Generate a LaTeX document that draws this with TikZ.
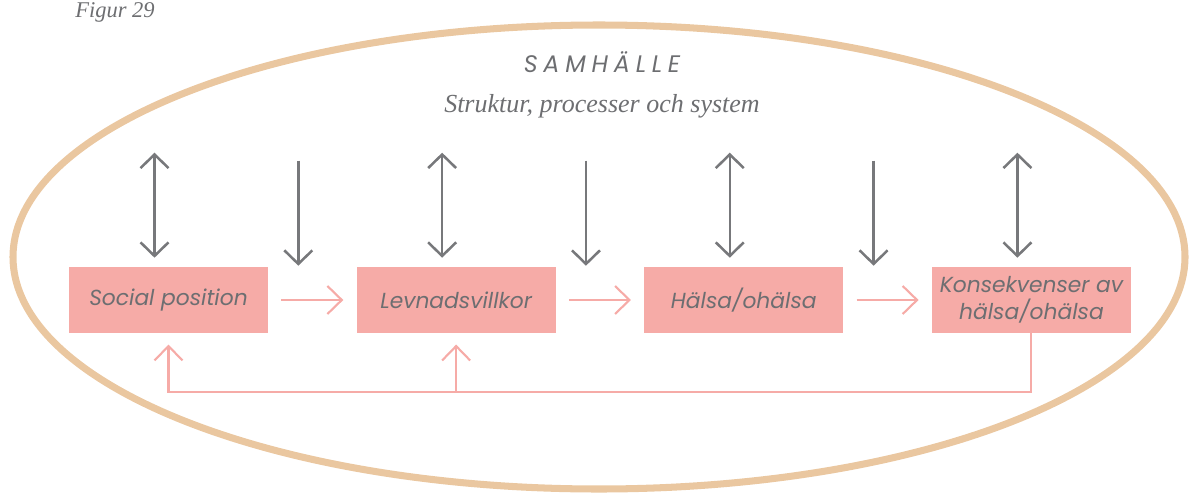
\documentclass[tikz,border=0pt]{standalone}
\usepackage{fontspec}
\setmainfont{Liberation Serif}
\newfontfamily\boxfont{Poppins}
\usetikzlibrary{arrows.meta,positioning,calc}
\definecolor{ringtan}{HTML}{EAC7A0}
\definecolor{boxpink}{HTML}{F6ABA7}
\definecolor{textgray}{HTML}{6D6E71}
\definecolor{arrowgray}{HTML}{77787B}

\begin{document}
\begin{tikzpicture}[x=0.025cm,y=-0.025cm,
  stage/.style={fill=boxpink,text=textgray,minimum width=4.975cm,minimum height=1.65cm,
    inner sep=0pt,align=center,font=\boxfont\itshape\fontsize{15.5}{19}\selectfont},
  grayarr/.style={arrowgray,line width=1.8pt,{Straight Barb[length=3.4mm,width=7mm]}-{Straight Barb[length=3.4mm,width=7mm]}},
  downarr/.style={arrowgray,line width=1.8pt,-{Straight Barb[length=3.4mm,width=7mm]}},
  pinkarr/.style={boxpink,line width=1.5pt,-{Straight Barb[length=3.6mm,width=7mm]}}]
  \useasboundingbox (0,0) rectangle (1192,494);
  % samhallet
  \draw[ringtan,line width=5pt] (599,257) ellipse [x radius=586,y radius=232];
  \node[textgray,font=\itshape\fontsize{16}{18}\selectfont,anchor=base west,inner sep=0pt] (fig) at (75,17) {Figur 29};
  \node[textgray,font=\boxfont\itshape\fontsize{17}{19}\selectfont\addfontfeatures{LetterSpace=24}] (sam) at (602,62) {SAMHÄLLE};
  \node[textgray,font=\itshape\fontsize{18.5}{21}\selectfont] (sub) at (602,106) {Struktur, processer och system};
  % kedjan
  \node[stage] (soc) at (168.5,300) {Social position};
  \node[stage,right=2.2cm of soc] (lev) {Levnadsvillkor};
  \node[stage,right=2.2cm of lev] (hal) {Hälsa/ohälsa};
  \node[stage,right=2.2cm of hal] (kon) {Konsekvenser av\\hälsa/ohälsa};
  \draw[pinkarr] ([xshift=0.325cm]soc.east) -- ([xshift=-0.325cm]lev.west);
  \draw[pinkarr] ([xshift=0.325cm]lev.east) -- ([xshift=-0.325cm]hal.west);
  \draw[pinkarr] ([xshift=0.325cm]hal.east) -- ([xshift=-0.325cm]kon.west);
  % paverkan fran samhallet
  \foreach \n in {soc,lev,hal,kon}
    \draw[grayarr] ([shift={(-14,-114)}]\n.north) -- ([shift={(-14,-9)}]\n.north);
  \foreach \a/\b in {soc/lev,lev/hal,hal/kon}
    \draw[downarr] ($(\a.north east)!0.5!(\b.north west)+(-14,-106)$) -- ($(\a.north east)!0.5!(\b.north west)+(-14,-1)$);
  % aterkoppling
  \coordinate (fb) at ($(kon.south)+(0,59)$);
  \draw[pinkarr] (kon.south) -- (fb) -| ([yshift=-8]soc.south);
  \draw[pinkarr] (lev.south |- fb) -- ([yshift=-8]lev.south);
\end{tikzpicture}
\end{document}
